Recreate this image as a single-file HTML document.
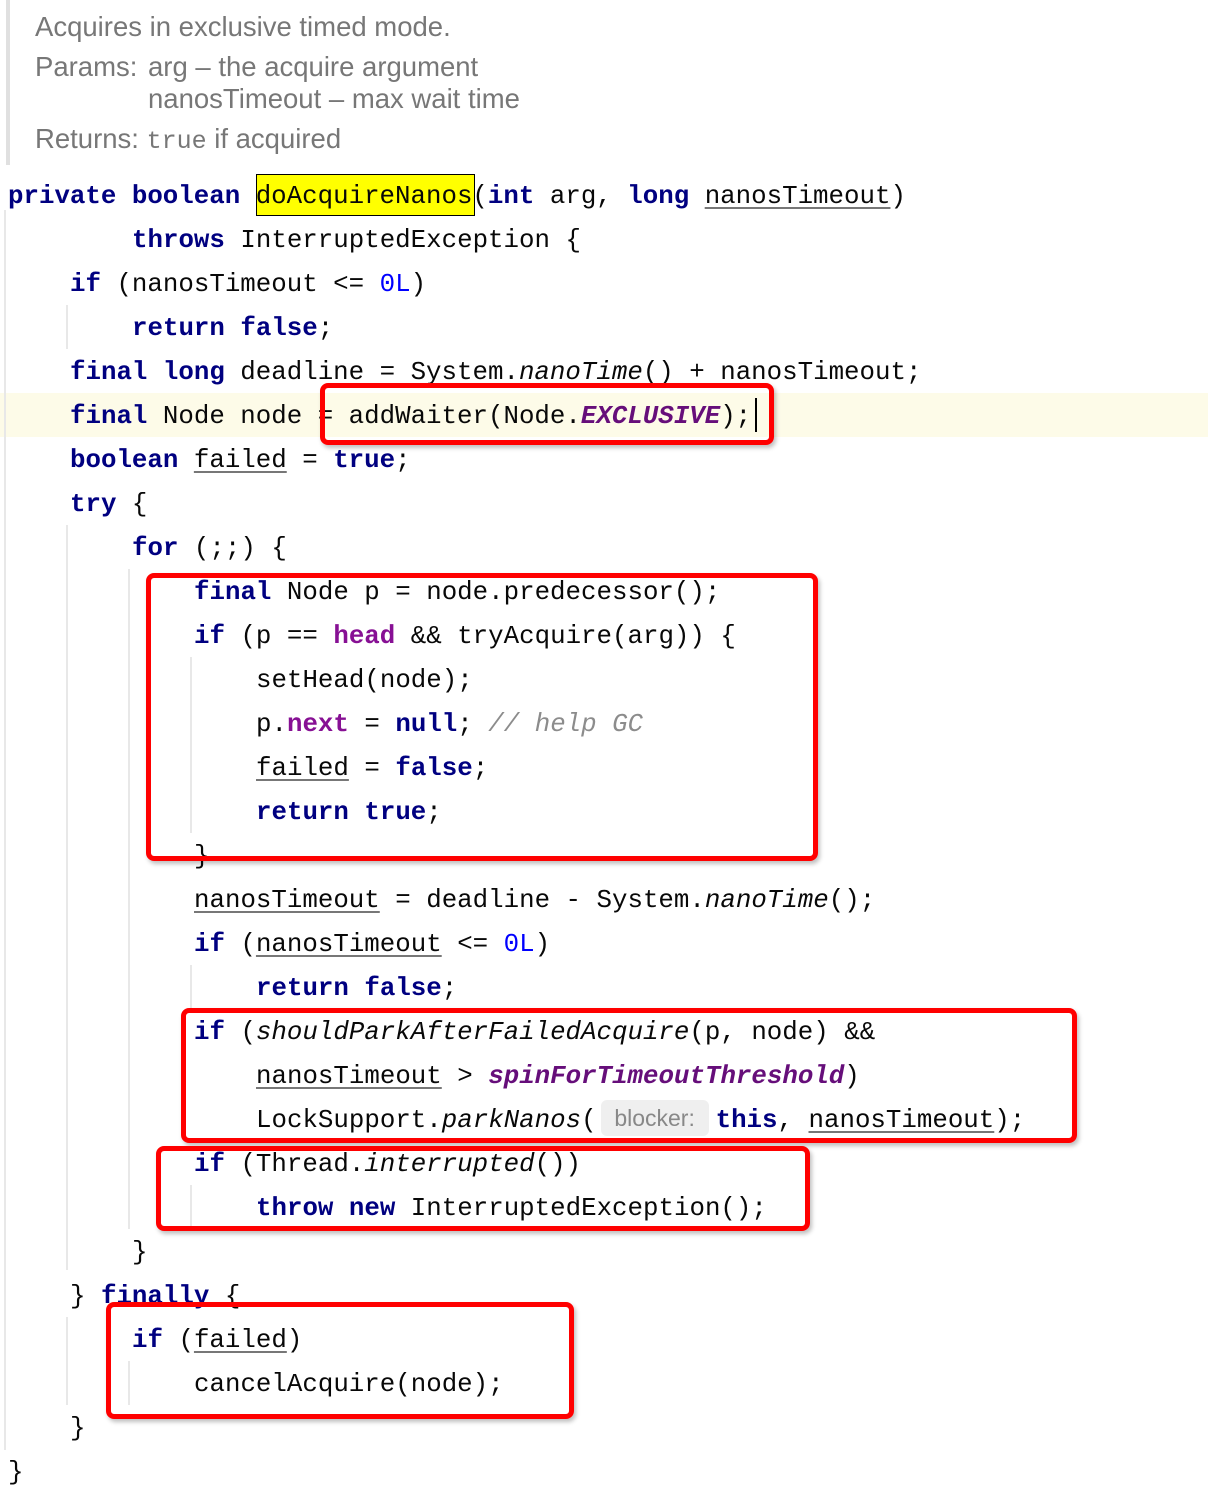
<!DOCTYPE html>
<html><head><meta charset="utf-8"><style>
html,body{margin:0;padding:0;background:#fff;width:1208px;height:1498px;overflow:hidden;position:relative}
.l{position:absolute;height:44px;line-height:44px;white-space:pre;font-family:"Liberation Mono",monospace;font-size:25.8px;color:#080808}
.k{color:#000080;font-weight:bold}
.f{color:#871094;font-weight:bold}
.s{color:#660e7a;font-weight:bold;font-style:italic}
.i{font-style:italic}
.n{color:#0000ff}
.c{color:#8c8c8c;font-style:italic}
.u{text-decoration:underline;text-decoration-color:#777;text-underline-offset:4px}
.d{position:absolute;font-family:"Liberation Sans",sans-serif;font-size:27.5px;color:#777;white-space:pre;line-height:32px}
.box{position:absolute;border:5px solid #f00;border-radius:8px;box-shadow:2px 3px 4px rgba(0,0,0,.25)}
.g{position:absolute;width:2px;background:#e8e8e8}
.hint{display:inline-block;width:108px;text-align:center;background:#efefef;color:#888;font-family:"Liberation Sans",sans-serif;font-size:23px;border-radius:6px;line-height:36px;margin:0 7px 0 4px;vertical-align:1px}
</style></head><body>
<div style="position:absolute;left:6px;top:0;width:4px;height:165px;background:#e0e0e0"></div>
<div class="d" style="left:35px;top:11px">Acquires in exclusive timed mode.</div>
<div class="d" style="left:35px;top:51px">Params:</div>
<div class="d" style="left:148px;top:51px">arg – the acquire argument</div>
<div class="d" style="left:148px;top:83px">nanosTimeout – max wait time</div>
<div class="d" style="left:35px;top:123px">Returns: <span style="font-family:'Liberation Mono',monospace;font-size:25px">true</span> if acquired</div>

<div style="position:absolute;left:0;top:393px;width:1208px;height:44px;background:#fdfbe8"></div>
<div class="g" style="left:4px;top:210px;height:1240px"></div>
<div class="g" style="left:66px;top:305px;height:44px"></div>
<div class="g" style="left:66px;top:525px;height:745px"></div>
<div class="g" style="left:128px;top:569px;height:660px"></div>
<div class="g" style="left:190px;top:657px;height:176px"></div>
<div class="g" style="left:190px;top:965px;height:44px"></div>
<div class="g" style="left:190px;top:1185px;height:44px"></div>
<div class="g" style="left:66px;top:1317px;height:88px"></div>
<div class="g" style="left:128px;top:1361px;height:44px"></div>

<div style="position:absolute;left:256px;top:174px;width:217px;height:40px;background:#ffff00;border:1px solid #000"></div>
<div class="l" style="left:8px;top:175px"><span class="k">private boolean</span> doAcquireNanos(<span class="k">int</span> arg, <span class="k">long</span> <span class="u">nanosTimeout</span>)</div>
<div class="l" style="left:132px;top:219px"><span class="k">throws</span> InterruptedException {</div>
<div class="l" style="left:70px;top:263px"><span class="k">if</span> (nanosTimeout &lt;= <span class="n">0L</span>)</div>
<div class="l" style="left:132px;top:307px"><span class="k">return false</span>;</div>
<div class="l" style="left:70px;top:351px"><span class="k">final long</span> deadline = System.<span class="i">nanoTime</span>() + nanosTimeout;</div>
<div class="l" style="left:70px;top:395px"><span class="k">final</span> Node node = addWaiter(Node.<span class="s">EXCLUSIVE</span>);</div>
<div style="position:absolute;left:755px;top:398px;width:2px;height:34px;background:#000"></div>
<div class="l" style="left:70px;top:439px"><span class="k">boolean</span> <span class="u">failed</span> = <span class="k">true</span>;</div>
<div class="l" style="left:70px;top:483px"><span class="k">try</span> {</div>
<div class="l" style="left:132px;top:527px"><span class="k">for</span> (;;) {</div>
<div class="l" style="left:194px;top:571px"><span class="k">final</span> Node p = node.predecessor();</div>
<div class="l" style="left:194px;top:615px"><span class="k">if</span> (p == <span class="f">head</span> &amp;&amp; tryAcquire(arg)) {</div>
<div class="l" style="left:256px;top:659px">setHead(node);</div>
<div class="l" style="left:256px;top:703px">p.<span class="f">next</span> = <span class="k">null</span>; <span class="c">// help GC</span></div>
<div class="l" style="left:256px;top:747px"><span class="u">failed</span> = <span class="k">false</span>;</div>
<div class="l" style="left:256px;top:791px"><span class="k">return true</span>;</div>
<div class="l" style="left:194px;top:835px">}</div>
<div class="l" style="left:194px;top:879px"><span class="u">nanosTimeout</span> = deadline - System.<span class="i">nanoTime</span>();</div>
<div class="l" style="left:194px;top:923px"><span class="k">if</span> (<span class="u">nanosTimeout</span> &lt;= <span class="n">0L</span>)</div>
<div class="l" style="left:256px;top:967px"><span class="k">return false</span>;</div>
<div class="l" style="left:194px;top:1011px"><span class="k">if</span> (<span class="i">shouldParkAfterFailedAcquire</span>(p, node) &amp;&amp;</div>
<div class="l" style="left:256px;top:1055px"><span class="u">nanosTimeout</span> &gt; <span class="s">spinForTimeoutThreshold</span>)</div>
<div class="l" style="left:256px;top:1099px">LockSupport.<span class="i">parkNanos</span>(<span class="hint">blocker:</span><span class="k">this</span>, <span class="u">nanosTimeout</span>);</div>
<div class="l" style="left:194px;top:1143px"><span class="k">if</span> (Thread.<span class="i">interrupted</span>())</div>
<div class="l" style="left:256px;top:1187px"><span class="k">throw new</span> InterruptedException();</div>
<div class="l" style="left:132px;top:1231px">}</div>
<div class="l" style="left:70px;top:1275px">} <span class="k">finally</span> {</div>
<div class="l" style="left:132px;top:1319px"><span class="k">if</span> (<span class="u">failed</span>)</div>
<div class="l" style="left:194px;top:1363px">cancelAcquire(node);</div>
<div class="l" style="left:70px;top:1407px">}</div>
<div class="l" style="left:8px;top:1451px">}</div>

<div class="box" style="left:320px;top:383px;width:444px;height:52px"></div>
<div class="box" style="left:146px;top:573px;width:662px;height:278px"></div>
<div class="box" style="left:181px;top:1008px;width:886px;height:125px"></div>
<div class="box" style="left:156px;top:1146px;width:644px;height:75px"></div>
<div class="box" style="left:106px;top:1302px;width:458px;height:107px"></div>
</body></html>
